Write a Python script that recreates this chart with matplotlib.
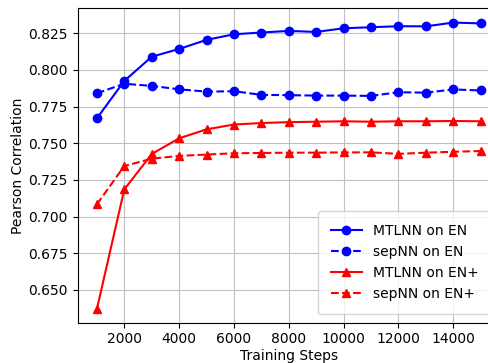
import matplotlib
matplotlib.use("Agg")
import matplotlib.pyplot as plt

steps = [1000, 2000, 3000, 4000, 5000, 6000, 7000, 8000,
         9000, 10000, 11000, 12000, 13000, 14000, 15000]

mtlnn_en = [0.767, 0.7925, 0.809, 0.8143, 0.8205, 0.8243, 0.8255, 0.8266,
            0.8259, 0.8284, 0.8291, 0.8298, 0.8297, 0.8323, 0.8317]
sepnn_en = [0.7841, 0.7906, 0.7891, 0.7868, 0.7852, 0.7855, 0.7830, 0.7828,
            0.7825, 0.7825, 0.7823, 0.7848, 0.7845, 0.7867, 0.7860]
mtlnn_enp = [0.637, 0.7186, 0.7427, 0.7534, 0.7595, 0.7628, 0.7638, 0.7644,
             0.7647, 0.7650, 0.7647, 0.7650, 0.7650, 0.7652, 0.7650]
sepnn_enp = [0.7084, 0.7345, 0.7395, 0.7414, 0.7423, 0.7432, 0.7434, 0.7436,
             0.7436, 0.7438, 0.7438, 0.7428, 0.7436, 0.7442, 0.7447]

labels = ["MTLNN on EN", "sepNN on EN", "MTLNN on EN+", "sepNN on EN+"]

fig = plt.figure(figsize=(4.89, 3.63), dpi=100)
ax = fig.add_axes([0.1589, 0.111, 0.8634, 0.8669])

ax.plot(steps, mtlnn_en, color="blue", linestyle="-", marker="o", label=labels[0])
ax.plot(steps, sepnn_en, color="blue", linestyle="--", marker="o", label=labels[1])
ax.plot(steps, mtlnn_enp, color="red", linestyle="-", marker="^", label=labels[2])
ax.plot(steps, sepnn_enp, color="red", linestyle="--", marker="^", label=labels[3])

ax.set_xlabel("Training Steps", labelpad=1.5)
ax.set_ylabel("Pearson Correlation", labelpad=2.5)
ax.set_xticks([2000, 4000, 6000, 8000, 10000, 12000, 14000])
ax.set_yticks([0.650, 0.675, 0.700, 0.725, 0.750, 0.775, 0.800, 0.825])
ax.set_xlim(300, 15700)
ax.set_ylim(0.6277, 0.8422)
ax.grid(True, color="#c0c0c0")
ax.legend(loc="lower right", borderpad=0.95, handlelength=2.2,
          borderaxespad=0.6)

fig.savefig("out.png", dpi=100)
